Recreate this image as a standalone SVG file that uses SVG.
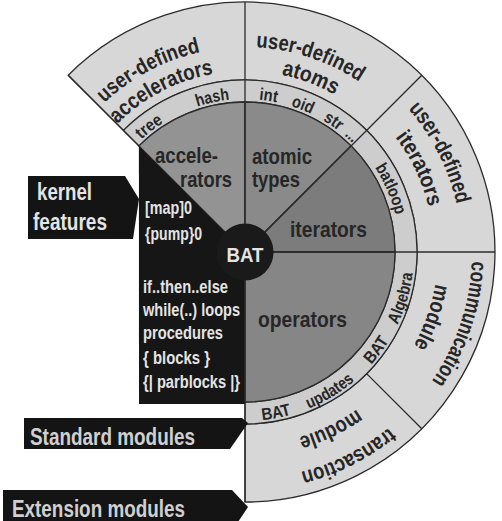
<svg xmlns="http://www.w3.org/2000/svg" width="502" height="521" viewBox="0 0 502 521">
<style>
.t{font-family:"Liberation Sans",Arial,sans-serif;font-weight:bold}
.dk{fill:#262626}
.lt{fill:#e4e4e4}
.ln{stroke:#2b2b2b;stroke-width:1.3;fill:none}
.edge{stroke:#2b2b2b;stroke-width:1.3}
.big{font-size:22px}
.sec{font-size:22px}
.rg{font-size:17px}
.ker{font-size:17.5px}
.lab{font-size:23px}
</style>
<defs>
<path id="cw205" d="M-177.5,-102.5 A205,205 0 0 1 177.5,-102.5"/>
<path id="cw181" d="M-156.7,-90.5 A181,181 0 0 1 156.7,-90.5"/>
<path id="cw217" d="M-187.9,-108.5 A217,217 0 0 1 187.9,-108.5"/>
<path id="cw189" d="M-163.7,-94.5 A189,189 0 0 1 163.7,-94.5"/>
<path id="cw227" d="M-196.6,-113.5 A227,227 0 0 1 196.6,-113.5"/>
<path id="cw193" d="M-167.1,-96.5 A193,193 0 0 1 167.1,-96.5"/>
<path id="cw153" d="M-132.5,-76.5 A153,153 0 0 1 132.5,-76.5"/>
<path id="cw155" d="M-134.2,-77.5 A155,155 0 0 1 134.2,-77.5"/>
<path id="ccw169" d="M-146.4,84.5 A169,169 0 0 0 146.4,84.5"/>
</defs>

<g id="outer-band">
<path d="M68.2,75.2 A250,250 0 1 1 245,502 L245,424 A172,172 0 1 0 123.4,130.4 Z" fill="#d7d7d7" class="edge"/>
</g>
<g id="inner-ring">
<path d="M123.4,130.4 A172,172 0 1 1 245,424 L245,402 A150,150 0 1 0 138.9,145.9 Z" fill="#cdcdcd" class="edge"/>
</g>
<g id="accelerators">
<path d="M245,252 L138.9,145.9 A150,150 0 0 1 245,102 Z" fill="#939393" class="edge"/>
<text class="t sec dk" x="155" y="163" textLength="63" lengthAdjust="spacingAndGlyphs">accele-</text>
<text class="t sec dk" x="180" y="187" textLength="52" lengthAdjust="spacingAndGlyphs">rators</text>
</g>
<g id="atomic-types">
<path d="M245,252 L245,102 A150,150 0 0 1 351.1,145.9 Z" fill="#8a8a8a" class="edge"/>
<text class="t sec dk" x="252" y="164" textLength="60" lengthAdjust="spacingAndGlyphs">atomic</text>
<text class="t sec dk" x="252" y="187" textLength="48" lengthAdjust="spacingAndGlyphs">types</text>
</g>
<g id="iterators">
<path d="M245,252 L351.1,145.9 A150,150 0 0 1 395,252 Z" fill="#7c7c7c" class="edge"/>
<text class="t sec dk" x="290" y="237" textLength="77" lengthAdjust="spacingAndGlyphs">iterators</text>
</g>
<g id="operators">
<path d="M245,252 L395,252 A150,150 0 0 1 245,402 Z" fill="#868686" class="edge"/>
<text class="t sec dk" x="258" y="327" textLength="89" lengthAdjust="spacingAndGlyphs">operators</text>
</g>
<g id="kernel-block">
<path d="M138.9,145.9 L245,252 L245,404 L139,404 Z" fill="#161616"/>
<text class="t ker lt" x="145" y="214" textLength="47" lengthAdjust="spacingAndGlyphs">[map]0</text>
<text class="t ker lt" x="145" y="240" textLength="57" lengthAdjust="spacingAndGlyphs">{pump}0</text>
<text class="t ker lt" x="143" y="293" textLength="85" lengthAdjust="spacingAndGlyphs">if..then..else</text>
<text class="t ker lt" x="143" y="316" textLength="97" lengthAdjust="spacingAndGlyphs">while(..) loops</text>
<text class="t ker lt" x="143" y="339" textLength="80" lengthAdjust="spacingAndGlyphs">procedures</text>
<text class="t ker lt" x="143" y="364" textLength="67" lengthAdjust="spacingAndGlyphs">{ blocks }</text>
<text class="t ker lt" x="143" y="388" textLength="97" lengthAdjust="spacingAndGlyphs">{| parblocks |}</text>
</g>

<g id="dividers">
<path class="ln" d="M245,2 V502"/>
<path class="ln" d="M245,252 L421.8,75.2"/>
<path class="ln" d="M245,252 H495"/>
<path class="ln" d="M366.6,373.6 L421.8,428.8"/>
<path class="ln" d="M138.9,145.9 L68.2,75.2"/>
</g>

<g id="bat">
<circle cx="245" cy="252" r="28.5" fill="#1a1a1a"/>
<text class="t lt" font-size="21" x="245" y="262" text-anchor="middle" textLength="37" lengthAdjust="spacingAndGlyphs">BAT</text>
</g>

<g id="user-defined-accelerators">
<g transform="translate(245,252) rotate(-28)"><text class="t big dk" text-anchor="middle"><textPath href="#cw205" startOffset="50%" textLength="110" lengthAdjust="spacingAndGlyphs">user-defined</textPath></text></g>
<g transform="translate(245,252) rotate(-27.5)"><text class="t big dk" text-anchor="middle"><textPath href="#cw181" startOffset="50%" textLength="110" lengthAdjust="spacingAndGlyphs">accelerators</textPath></text></g>
</g>
<g id="user-defined-atoms">
<g transform="translate(245,252) rotate(18.5)"><text class="t big dk" text-anchor="middle"><textPath href="#cw205" startOffset="50%" textLength="110" lengthAdjust="spacingAndGlyphs">user-defined</textPath></text></g>
<g transform="translate(245,252) rotate(20.7)"><text class="t big dk" text-anchor="middle"><textPath href="#cw181" startOffset="50%" textLength="57" lengthAdjust="spacingAndGlyphs">atoms</textPath></text></g>
</g>
<g id="user-defined-iterators">
<g transform="translate(245,252) rotate(63)"><text class="t big dk" text-anchor="middle"><textPath href="#cw217" startOffset="50%" textLength="108" lengthAdjust="spacingAndGlyphs">user-defined</textPath></text></g>
<g transform="translate(245,252) rotate(64.4)"><text class="t big dk" text-anchor="middle"><textPath href="#cw189" startOffset="50%" textLength="78" lengthAdjust="spacingAndGlyphs">iterators</textPath></text></g>
</g>
<g id="communication-module">
<g transform="translate(245,252) rotate(108.5)"><text class="t big dk" text-anchor="middle"><textPath href="#cw227" startOffset="50%" textLength="128" lengthAdjust="spacingAndGlyphs">communication</textPath></text></g>
<g transform="translate(245,252) rotate(109.3)"><text class="t big dk" text-anchor="middle"><textPath href="#cw193" startOffset="50%" textLength="66" lengthAdjust="spacingAndGlyphs">module</textPath></text></g>
</g>
<g id="transaction-module">
<g transform="translate(245,252) rotate(153.2)"><text class="t big dk" text-anchor="middle"><textPath href="#cw227" startOffset="50%" textLength="100" lengthAdjust="spacingAndGlyphs">transaction</textPath></text></g>
<g transform="translate(245,252) rotate(154.2)"><text class="t big dk" text-anchor="middle"><textPath href="#cw193" startOffset="50%" textLength="65" lengthAdjust="spacingAndGlyphs">module</textPath></text></g>
</g>

<g id="ring-labels">
<g transform="translate(245,252) rotate(-37.4)"><text class="t rg dk" text-anchor="middle"><textPath href="#cw153" startOffset="50%" textLength="28" lengthAdjust="spacingAndGlyphs">tree</textPath></text></g>
<g transform="translate(245,252) rotate(-12)"><text class="t rg dk" text-anchor="middle"><textPath href="#cw153" startOffset="50%" textLength="33" lengthAdjust="spacingAndGlyphs">hash</textPath></text></g>
<g transform="translate(245,252) rotate(8.6)"><text class="t rg dk" text-anchor="middle"><textPath href="#cw153" startOffset="50%" textLength="18" lengthAdjust="spacingAndGlyphs">int</textPath></text></g>
<g transform="translate(245,252) rotate(21.5)"><text class="t rg dk" text-anchor="middle"><textPath href="#cw153" startOffset="50%" textLength="22" lengthAdjust="spacingAndGlyphs">oid</textPath></text></g>
<g transform="translate(245,252) rotate(34.1)"><text class="t rg dk" text-anchor="middle"><textPath href="#cw153" startOffset="50%" textLength="19" lengthAdjust="spacingAndGlyphs">str</textPath></text></g>
<g transform="translate(245,252) rotate(42.5)"><text class="t rg dk" text-anchor="middle"><textPath href="#cw153" startOffset="50%" textLength="11" lengthAdjust="spacingAndGlyphs">...</textPath></text></g>
<g transform="translate(245,252) rotate(66.6)"><text class="t rg dk" text-anchor="middle"><textPath href="#cw155" startOffset="50%" textLength="52" lengthAdjust="spacingAndGlyphs">batloop</textPath></text></g>
<g transform="translate(245,252) rotate(-53.3)"><text class="t rg dk" text-anchor="middle"><textPath href="#ccw169" startOffset="50%" textLength="30" lengthAdjust="spacingAndGlyphs">BAT</textPath></text></g>
<g transform="translate(245,252) rotate(-73.6)"><text class="t rg dk" text-anchor="middle"><textPath href="#ccw169" startOffset="50%" textLength="54" lengthAdjust="spacingAndGlyphs">Algebra</textPath></text></g>
<g transform="translate(245,252) rotate(-10.9)"><text class="t rg dk" text-anchor="middle"><textPath href="#ccw169" startOffset="50%" textLength="30" lengthAdjust="spacingAndGlyphs">BAT</textPath></text></g>
<g transform="translate(245,252) rotate(-31.3)"><text class="t rg dk" text-anchor="middle"><textPath href="#ccw169" startOffset="50%" textLength="54" lengthAdjust="spacingAndGlyphs">updates</textPath></text></g>
</g>

<g id="label-kernel-features">
<path d="M28,176 H125 L139,199 L133,239 H28 Z" fill="#141414"/>
<text class="t lab lt" x="37" y="200" textLength="55" lengthAdjust="spacingAndGlyphs">kernel</text>
<text class="t lab lt" x="33" y="230" textLength="74" lengthAdjust="spacingAndGlyphs">features</text>
</g>
<g id="label-standard-modules">
<path d="M24,418 H242 L248,423 L230,449 H24 Z" fill="#141414"/>
<text class="t lab" fill="#d0d0d0" x="30" y="445" textLength="165" lengthAdjust="spacingAndGlyphs">Standard modules</text>
</g>
<g id="label-extension-modules">
<path d="M3,490 H232 L248,507 L238,522 H3 Z" fill="#141414"/>
<text class="t lab" fill="#d0d0d0" x="12" y="517" textLength="173" lengthAdjust="spacingAndGlyphs">Extension modules</text>
</g>
</svg>
